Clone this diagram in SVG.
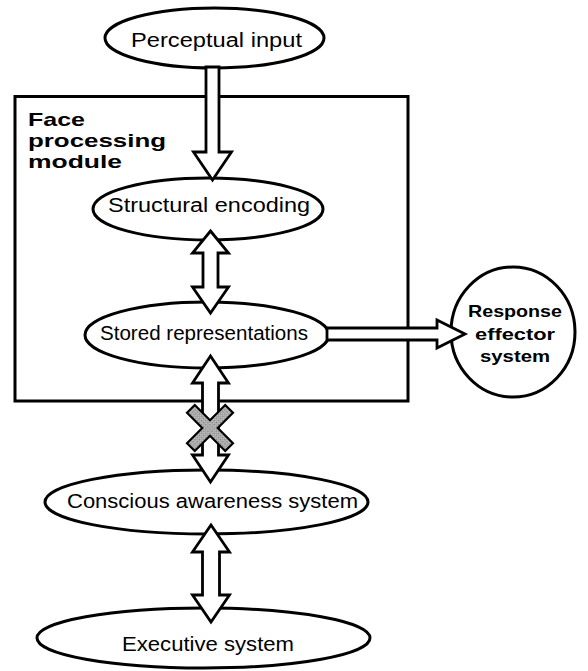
<svg xmlns="http://www.w3.org/2000/svg" width="588" height="671" viewBox="0 0 588 671">
<style>
.node{fill:#fff;stroke:#000;stroke-width:3}
.lbl{font-family:"Liberation Sans",Arial,sans-serif;font-size:20px;fill:#000;text-anchor:middle}
.blbl{font-family:"Liberation Sans",Arial,sans-serif;font-weight:bold;font-size:19px;fill:#000}
.rlbl{font-family:"Liberation Sans",Arial,sans-serif;font-weight:bold;font-size:16.5px;fill:#000;text-anchor:middle}
.arrow{fill:#fff;stroke:#000;stroke-width:2.8;stroke-linejoin:miter}
</style>
<defs>
<pattern id="hatch" width="3" height="3" patternUnits="userSpaceOnUse">
<rect width="3" height="3" fill="#c8c8c8"/>
<rect width="1.5" height="1.5" fill="#7a7a7a"/>
<rect x="1.5" y="1.5" width="1.5" height="1.5" fill="#9a9a9a"/>
</pattern>
</defs>
<rect width="588" height="671" fill="#fff"/>
<g id="face-processing-module">
<rect x="15" y="96.5" width="393" height="304.5" fill="none" stroke="#000" stroke-width="3"/>
<text class="blbl" x="28" y="126" textLength="57" lengthAdjust="spacingAndGlyphs">Face</text>
<text class="blbl" x="28" y="147" textLength="138" lengthAdjust="spacingAndGlyphs">processing</text>
<text class="blbl" x="28" y="168" textLength="94" lengthAdjust="spacingAndGlyphs">module</text>
</g>
<g id="perceptual-input">
<ellipse class="node" cx="214.5" cy="38" rx="109.5" ry="30"/>
<text class="lbl" x="216.5" y="47" textLength="171" lengthAdjust="spacingAndGlyphs">Perceptual input</text>
</g>
<g id="structural-encoding">
<ellipse class="node" cx="208" cy="209" rx="115" ry="31"/>
<text class="lbl" x="209" y="212" textLength="202" lengthAdjust="spacingAndGlyphs">Structural encoding</text>
</g>
<g id="stored-representations">
<ellipse class="node" cx="207" cy="335" rx="122" ry="33"/>
<text class="lbl" x="204" y="340" textLength="208" lengthAdjust="spacingAndGlyphs">Stored representations</text>
</g>
<g id="response-effector-system">
<ellipse class="node" cx="513" cy="332" rx="62" ry="65"/>
<text class="rlbl" x="515" y="317" textLength="94" lengthAdjust="spacingAndGlyphs">Response</text>
<text class="rlbl" x="515" y="340" textLength="80" lengthAdjust="spacingAndGlyphs">effector</text>
<text class="rlbl" x="515" y="362" textLength="70" lengthAdjust="spacingAndGlyphs">system</text>
</g>
<g id="conscious-awareness-system">
<ellipse class="node" cx="206.5" cy="502" rx="161.5" ry="32"/>
<text class="lbl" x="212.5" y="508" textLength="291" lengthAdjust="spacingAndGlyphs">Conscious awareness system</text>
</g>
<g id="executive-system">
<ellipse class="node" cx="203.5" cy="638" rx="166.5" ry="30"/>
<text class="lbl" x="208" y="651" textLength="172" lengthAdjust="spacingAndGlyphs">Executive system</text>
</g>
<g id="connectors">
<polygon class="arrow" points="206,67 206,152 193.5,152 212.5,180 231.5,152 219,152 219,67"/>
<polygon class="arrow" points="210.5,231 228.5,253 218,253 218,287 228.5,287 210.5,313 192.5,287 203,287 203,253 192.5,253"/>
<polygon class="arrow" points="210.5,356 228.5,383 218.5,383 218.5,455 228.5,455 210.5,482 192.5,455 202.5,455 202.5,383 192.5,383"/>
<polygon class="arrow" points="211,525 229.5,552 219.5,552 219.5,595 229.5,595 211,622 192.5,595 202.5,595 202.5,552 192.5,552"/>
<polygon class="arrow" points="327,328 437,328 437,320 465,334 437,348 437,340 327,340"/>
<g id="blocked-cross" transform="translate(210,428) rotate(45)">
<path d="M-5.5,-27 H5.5 V-5.5 H27 V5.5 H5.5 V27 H-5.5 V5.5 H-27 V-5.5 H-5.5 Z" fill="url(#hatch)" stroke="#000" stroke-width="2.2"/>
</g>
</g>
</svg>
